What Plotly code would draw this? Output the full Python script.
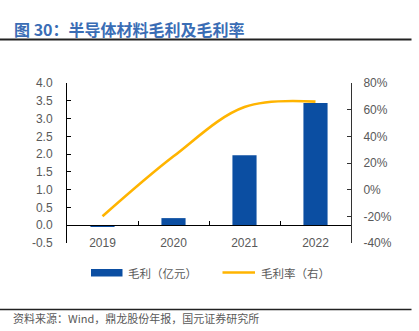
import plotly.graph_objects as go

# Data
years = ["2019", "2020", "2021", "2022"]
gross_profit = [-0.04, 0.20, 1.97, 3.44]      # 毛利（亿元）
gross_margin = [-20, 25, 62, 66]              # 毛利率（%）

left_ticks = [-0.5, 0.0, 0.5, 1.0, 1.5, 2.0, 2.5, 3.0, 3.5, 4.0]
right_ticks = [-40, -20, 0, 20, 40, 60, 80]
left_labels = [f"{v:.1f}" for v in left_ticks]
right_labels = [f"{v}%" for v in right_ticks]

BAR_BLUE = "#0B4EA2"
LINE_GOLD = "#FFB400"
TITLE_BLUE = "#3A6DB5"
GRAY = "#595959"
LATIN = "Liberation Sans, Arial, sans-serif"
CJK = "Noto Sans CJK SC, sans-serif"

W, H = 419, 331
M_L, M_R, M_T, M_B = 67, 68, 83, 88
PW, PH = W - M_L - M_R, H - M_T - M_B


def px_x(x):
    return (x - M_L) / PW


def px_y(y):
    return (H - M_B - y) / PH


fig = go.Figure()
fig.add_trace(go.Bar(
    x=years, y=gross_profit, name="毛利（亿元）",
    marker=dict(color=BAR_BLUE, line=dict(width=0)),
    width=0.34, yaxis="y", showlegend=False,
))
fig.add_trace(go.Scatter(
    x=years, y=gross_margin, name="毛利率（右）", mode="lines",
    line=dict(color=LINE_GOLD, width=2.6, shape="spline", smoothing=1.0),
    yaxis="y2", showlegend=False,
))

zero_frac = (0 - left_ticks[0]) / (left_ticks[-1] - left_ticks[0])

fig.update_layout(
    width=W, height=H,
    margin=dict(l=M_L, r=M_R, t=M_T, b=M_B, pad=0),
    paper_bgcolor="white", plot_bgcolor="white",
    font=dict(family=LATIN, size=12, color=GRAY),
    showlegend=False,
    xaxis=dict(
        type="category", range=[-0.5, 3.5],
        anchor="free", position=zero_frac,
        showline=True, linecolor="#000000", linewidth=1,
        ticks="inside", tickson="boundaries", ticklen=4, tickcolor="#000000",
        ticklabelstandoff=6,
        tickfont=dict(family=LATIN, size=12, color=GRAY),
        showgrid=False, zeroline=False,
    ),
    yaxis=dict(
        range=[left_ticks[0], left_ticks[-1]],
        tickmode="array", tickvals=left_ticks, ticktext=left_labels,
        showline=True, linecolor="#000000", linewidth=1,
        ticks="inside", ticklen=4, tickcolor="#000000",
        ticklabelstandoff=11,
        tickfont=dict(family=LATIN, size=12, color=GRAY),
        showgrid=False, zeroline=False,
    ),
    yaxis2=dict(
        overlaying="y", side="right",
        range=[right_ticks[0], right_ticks[-1]],
        tickmode="array", tickvals=right_ticks, ticktext=right_labels,
        showline=True, linecolor="#333333", linewidth=1,
        ticks="inside", ticklen=4, tickcolor="#333333",
        ticklabelstandoff=9,
        tickfont=dict(family=LATIN, size=12, color=GRAY),
        showgrid=False, zeroline=False,
    ),
)

# Header and footer rules
fig.add_shape(type="line", xref="paper", yref="paper",
              x0=px_x(0), x1=px_x(411.5), y0=px_y(39.5), y1=px_y(39.5),
              line=dict(color="#222222", width=2))
fig.add_shape(type="line", xref="paper", yref="paper",
              x0=px_x(0), x1=px_x(411.5), y0=px_y(309.5), y1=px_y(309.5),
              line=dict(color="#222222", width=1.5))

# Title
fig.add_annotation(
    text="<b>图 30：半导体材料毛利及毛利率</b>",
    xref="paper", yref="paper", x=px_x(12), y=px_y(29.5),
    xanchor="left", yanchor="middle", showarrow=False,
    font=dict(family=CJK, size=16, color=TITLE_BLUE),
)

# Source note
fig.add_annotation(
    text="资料来源：Wind，鼎龙股份年报，国元证券研究所",
    xref="paper", yref="paper", x=px_x(11), y=px_y(318),
    xanchor="left", yanchor="middle", showarrow=False,
    font=dict(family=CJK, size=11, color=GRAY),
)

# Legend
fig.add_shape(type="rect", xref="paper", yref="paper",
              x0=px_x(91), x1=px_x(122.5), y0=px_y(276.5), y1=px_y(269),
              fillcolor=BAR_BLUE, line=dict(width=0))
fig.add_annotation(
    text="毛利（亿元）", xref="paper", yref="paper",
    x=px_x(126), y=px_y(272.5), xanchor="left", yanchor="middle",
    showarrow=False, font=dict(family=CJK, size=11.5, color=GRAY),
)
fig.add_shape(type="line", xref="paper", yref="paper",
              x0=px_x(222.5), x1=px_x(255), y0=px_y(272.5), y1=px_y(272.5),
              line=dict(color=LINE_GOLD, width=2.6))
fig.add_annotation(
    text="毛利率（右）", xref="paper", yref="paper",
    x=px_x(259), y=px_y(272.5), xanchor="left", yanchor="middle",
    showarrow=False, font=dict(family=CJK, size=11.5, color=GRAY),
)

fig.write_html("out.html")
